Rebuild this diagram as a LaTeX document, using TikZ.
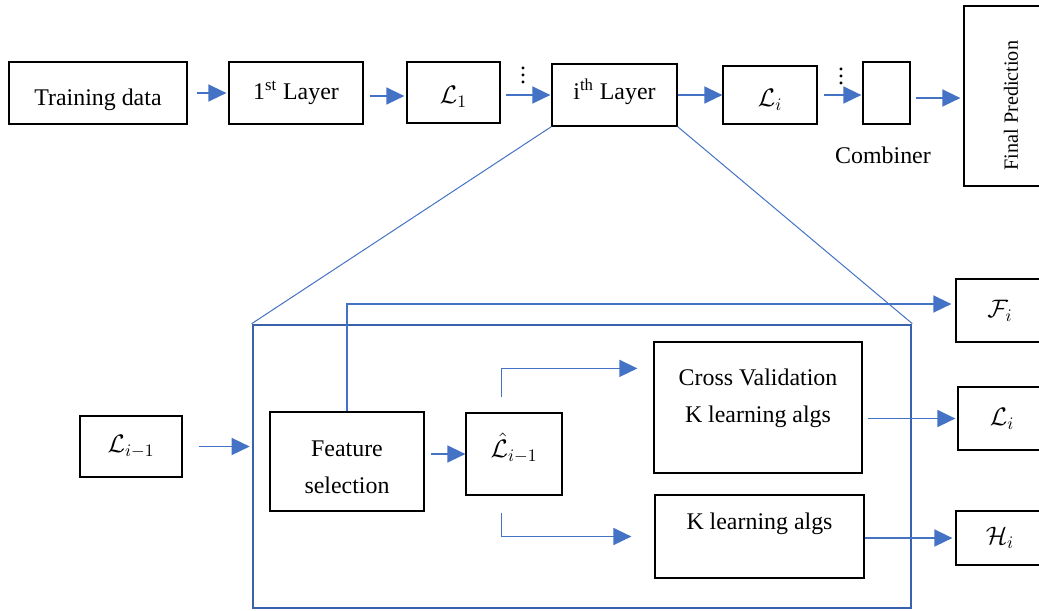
\documentclass[tikz,border=0pt]{standalone}
\usepackage{amsmath, amssymb}
\usepackage{fontspec}
\setmainfont{Liberation Serif}
\usetikzlibrary{arrows.meta, calc}

\definecolor{flowblue}{HTML}{4472C4}
\definecolor{stageblue}{HTML}{3A62AC}

\tikzset{
  box/.style = {rectangle, line width = 0.25mm, draw = black, inner sep = 0pt, font = \fontsize{13.6pt}{21pt}\selectfont, align = center},
  flow/.style = {draw = flowblue, line width = 0.3mm, -{Triangle[length = 0.36cm, width = 0.34cm]}},
  zoomline/.style = {draw = flowblue, line width = 0.2mm},
  stagebox/.style = {rectangle, line width = 0.55mm, draw = stageblue, inner sep = 0pt},
  plain/.style = {inner sep = 0pt, font = \fontsize{13.6pt}{21pt}\selectfont}
}

\begin{document}
\begin{tikzpicture}[x = 0.02cm, y = -0.02cm]

\useasboundingbox (0, 0) rectangle (1039, 610);
\clip (0, 0) rectangle (1039, 610);

\node[box, minimum width = 3.56cm, minimum height = 1.24cm] (train) at (98, 93) {\rule{0pt}{17pt}Training data};
\node[box, minimum width = 2.68cm, minimum height = 1.24cm] (layer1) at (296, 93) {1\textsuperscript{st} Layer};
\node[box, minimum width = 1.86cm, minimum height = 1.22cm] (L1) at (453.5, 92.5) {\rule{0pt}{15pt}$\mathcal{L}_{1}$};
\node[box, minimum width = 2.5cm, minimum height = 1.24cm] (layeri) at (614.5, 95) {i\textsuperscript{th} Layer\rule[-7pt]{0pt}{7pt}};
\node[box, minimum width = 1.88cm, minimum height = 1.16cm] (Li) at (770, 95) {\rule{0pt}{15pt}$\mathcal{L}_{i}$};
\node[box, minimum width = 0.94cm, minimum height = 1.24cm] (comb) at (886.5, 93) {};
\node[box, rotate = 90, minimum width = 3.6cm, minimum height = 1.88cm, font = \fontsize{11.5pt}{14pt}\selectfont] (final) at (1011, 96) {Final Prediction\hspace{11pt}};

\node[plain] (combname) at (883, 155) {Combiner};
\node[plain] (dots1) at (523, 70) {$\vdots$};
\node[plain] (dots2) at (841, 71) {$\vdots$};

\node[box, minimum width = 2.04cm, minimum height = 1.22cm] (Lprev) at (131, 446.5) {$\mathcal{L}_{i-1}$};
\node[stagebox, minimum width = 13.16cm, minimum height = 5.66cm] (stage) at (582, 466.5) {};
\node[box, minimum width = 3.08cm, minimum height = 1.98cm] (fs) at (347, 461.5) {\rule{0pt}{15pt}Feature\\selection};
\node[box, minimum width = 1.92cm, minimum height = 1.64cm] (Lhat) at (514, 454) {$\hat{\mathcal{L}}_{i-1}$\rule[-10pt]{0pt}{10pt}};
\node[box, minimum width = 4.16cm, minimum height = 2.62cm] (cv) at (758, 407.5) {Cross Validation\\K learning algs\rule[-13pt]{0pt}{13pt}};
\node[box, minimum width = 4.18cm, minimum height = 1.66cm] (kla) at (759.5, 536.5) {K learning algs\rule[-17pt]{0pt}{17pt}};

\node[box, minimum width = 1.76cm, minimum height = 1.26cm] (Fi) at (1000, 310.5) {$\mathcal{F}_{i}$};
\node[box, minimum width = 1.76cm, minimum height = 1.26cm] (Li2) at (1002, 418.5) {$\mathcal{L}_{i}$};
\node[box, minimum width = 1.76cm, minimum height = 1.08cm] (Hi) at (1000, 538) {$\mathcal{H}_{i}$};

\draw[flow, shorten <= 0.18cm, shorten >= 0.04cm] (train) -- (layer1);
\draw[flow, shorten <= 0.12cm, shorten >= 0.04cm] ([yshift = -0.06cm]layer1.east) -- ([yshift = -0.06cm]layer1.east -| L1.west);
\draw[flow, shorten <= 0.1cm, shorten >= 0.02cm] (L1.east |- layeri) -- (layeri.west);
\draw[flow] (layeri) -- (Li);
\draw[flow, shorten <= 0.12cm, shorten >= 0.02cm] (Li.east) -- (Li.east -| comb.west);
\draw[flow, shorten <= 0.1cm, shorten >= 0.06cm] ([yshift = -0.1cm]comb.east) -- ([yshift = -0.1cm]comb.east -| final.north);

\draw[zoomline] (layeri.south west) -- (stage.north west);
\draw[zoomline] (layeri.south east) -- (stage.north east);

\draw[flow, shorten <= 0.32cm, shorten >= 0.04cm] (Lprev) -- (Lprev -| stage.west);
\draw[flow, shorten <= 0.12cm] (fs.east |- Lhat) -- (Lhat.west);
\draw[flow, shorten >= 0.08cm] (fs.north) |- ([yshift = 0.13cm]Fi.west);
\draw[flow] ($(Lhat.north west) + (36, -15)$) |- ($(cv.north west) + (-16, 27)$);
\draw[flow] ($(Lhat.south west) + (36, 17)$) |- ([xshift = -0.46cm]kla.west);
\draw[flow, shorten <= 0.1cm, shorten >= 0.04cm] (cv.east |- Li2) -- (Li2.west);
\draw[flow, shorten >= 0.06cm] (kla.east |- Hi) -- (Hi.west);

\end{tikzpicture}
\end{document}
